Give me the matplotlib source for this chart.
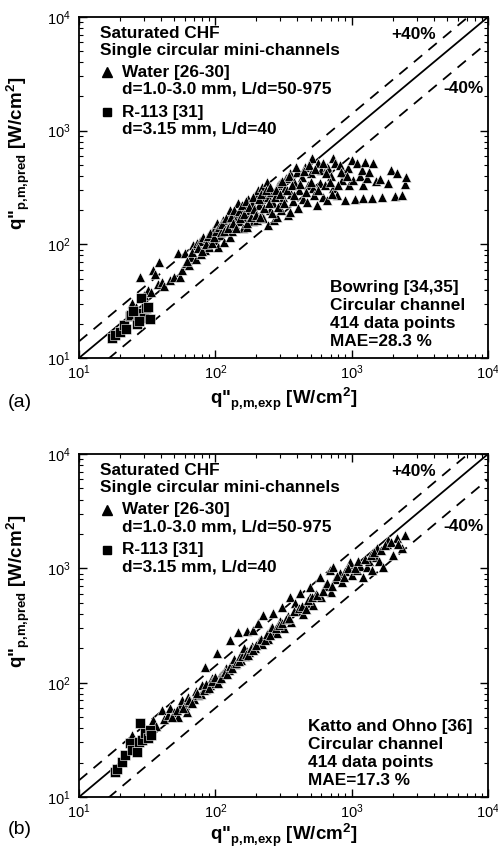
import numpy as np
import matplotlib
matplotlib.use("Agg")
import matplotlib.pyplot as plt

plt.rcParams["font.family"] = ["Liberation Sans", "DejaVu Sans"]
plt.rcParams["mathtext.fontset"] = "custom"
plt.rcParams["mathtext.rm"] = "Liberation Sans"
plt.rcParams["mathtext.bf"] = "Liberation Sans:bold"

# =====================================================
# DATA  -> (q_exp, q_pred) in W/cm2
# =====================================================

# (a) Bowring
water_a = [
    (24.5, 30.5), (26, 28), (28, 51.5), (30, 36), (32, 40), (34, 38), (34.9, 59.4),
    (36, 55), (38.6, 69.8), (38, 45), (40.6, 46.6), (42, 43), (46.5, 48.5), (50, 52),
    (53, 83.5), (55, 51.5), (57, 60), (60.8, 68), (60, 84), (64, 66), (66, 78),
    (69, 99), (72, 75), (73, 102), (77, 107), (78, 82), (81, 116), (84, 90), (87, 113),
    (90, 95), (93, 104), (96, 134), (99, 139), (100, 110), (103, 154), (104, 95),
    (108, 120), (113, 164), (115, 105), (118, 140), (122, 164), (125, 150), (128, 200),
    (128, 116), (132, 130), (136, 180), (140, 150), (144, 174), (146, 230), (150, 160),
    (155, 190), (160, 140), (165, 210), (170, 142), (170, 174), (175, 250), (180, 200),
    (185, 230), (190, 160), (196, 270), (202, 164), (205, 300), (210, 220), (215, 190),
    (220, 320), (225, 170), (232, 260), (240, 353), (243, 148), (243, 260), (250, 200),
    (258, 290), (265, 230), (270, 165), (283, 174), (290, 330), (297, 345), (297, 230),
    (305, 200), (313, 260), (325, 310), (330, 380), (340, 180), (352, 425), (352, 192),
    (360, 280), (370, 240), (380, 350), (397, 435), (403, 208), (410, 300), (430, 390),
    (440, 250), (455, 480), (470, 236), (480, 330), (500, 420), (512, 574), (520, 310),
    (530, 270), (555, 222), (563, 520), (585, 345), (600, 450), (612, 260), (640, 330),
    (660, 480), (660, 245), (670, 470), (700, 400), (730, 310), (731, 574), (760, 520),
    (780, 270), (820, 500), (850, 365), (880, 420), (900, 245), (940, 470), (960, 330),
    (1000, 550), (1020, 365), (1060, 250), (1100, 520), (1150, 400), (1190, 450),
    (1210, 330), (1210, 255), (1253, 530), (1300, 380), (1350, 437), (1410, 255),
    (1437, 520), (1500, 360), (1610, 375), (1670, 260), (1850, 345), (1946, 450),
    (2070, 265), (2150, 424), (2330, 272), (2460, 339), (2506, 392),
    (62, 72), (68, 85), (75, 92), (80, 88), (85, 100), (88, 118), (92, 125), (95, 102),
    (98, 115), (102, 130), (106, 142), (110, 128), (112, 150), (116, 132), (120, 170),
    (124, 138), (130, 175), (134, 155), (138, 200), (142, 140), (148, 195), (152, 170),
    (158, 220), (162, 185), (168, 240), (172, 155), (178, 215), (182, 175), (188, 260),
    (192, 205), (198, 180), (208, 250), (212, 175), (218, 280), (228, 210), (236, 300),
    (248, 230), (252, 320), (262, 190), (275, 260), (280, 300), (288, 215), (300, 280),
    (310, 360), (318, 230), (335, 300), (345, 400), (365, 330), (375, 270), (390, 480),
    (420, 340), (445, 440), (460, 290), (490, 500), (505, 350), (540, 460), (570, 300),
    (620, 520), (650, 420), (690, 350), (720, 280), (800, 330), (830, 430), (920, 400),
]
r113_a = [
    (17.5, 15), (18.5, 16), (20, 17), (21.5, 19.5), (22, 18), (23.5, 23.5), (24, 24),
    (26.5, 20), (27, 24), (28.5, 33.5), (29, 25), (30, 22.5), (31, 27.5), (32, 28),
    (33, 22), (27.5, 21), (25, 26),
]

# (b) Katto and Ohno
water_b = [
    (24.5, 34.8), (26, 30), (28, 33), (30, 38), (32, 35), (35, 47), (37, 42),
    (40.6, 57.6), (42, 48), (45, 52), (46.5, 60), (50, 55), (53, 50), (55, 62),
    (57, 70), (60, 64), (62, 55), (63, 75), (66, 68), (70, 72), (72, 84), (75, 78),
    (78, 80), (80, 95), (84, 137), (85, 88), (88, 92), (92, 96), (95, 110), (98, 100),
    (103, 182), (105, 108), (108, 115), (112, 120), (115, 118), (120, 135), (125, 128),
    (128, 236), (130, 140), (135, 150), (140, 145), (146, 278), (150, 165), (155, 158),
    (160, 180), (165, 170), (170, 283), (172, 190), (178, 185), (185, 210), (190, 290),
    (195, 200), (205, 330), (210, 230), (220, 220), (225, 390), (235, 250), (245, 240),
    (255, 300), (265, 405), (270, 280), (285, 270), (300, 350), (308, 455), (320, 300),
    (340, 380), (355, 560), (360, 340), (385, 500), (400, 420), (420, 610), (440, 400),
    (470, 500), (495, 690), (495, 560), (520, 480), (550, 600), (585, 840), (600, 560),
    (640, 700), (690, 970), (700, 620), (730, 1030), (760, 800), (820, 910), (850, 760),
    (900, 950), (970, 1130), (1000, 880), (1090, 970), (1150, 1050), (1210, 840),
    (1290, 1030), (1350, 1150), (1410, 970), (1500, 1250), (1540, 1500), (1600, 1150),
    (1700, 1030), (1820, 1620), (1840, 1770), (2000, 1300), (2155, 1840), (2340, 1500),
    (2466, 1958),
    (48, 50), (52, 58), (58, 60), (64, 70), (68, 66), (74, 82), (82, 86), (86, 98),
    (90, 90), (94, 104), (100, 112), (104, 100), (110, 110), (118, 125), (122, 118),
    (128, 140), (132, 135), (138, 160), (142, 150), (148, 155), (152, 172), (158, 170),
    (162, 200), (168, 178), (175, 175), (182, 200), (188, 192), (200, 215), (215, 240),
    (230, 235), (240, 265), (250, 260), (260, 310), (280, 300), (295, 320), (310, 330),
    (330, 360), (350, 370), (375, 420), (410, 450), (430, 470), (460, 440), (480, 530),
    (510, 560), (560, 580), (620, 640), (660, 740), (720, 700), (780, 860), (880, 840),
    (940, 1000), (1050, 1000), (1120, 1150), (1250, 1200), (1380, 1300), (1450, 1380),
    (1650, 1450), (1750, 1600), (1950, 1700), (2200, 1650),
]
r113_b = [
    (18.4, 16.5), (19, 17.5), (20.7, 20.2), (21.8, 23.3), (23.7, 29.7), (24.5, 26),
    (26.6, 24.7), (27.5, 30), (28, 44.4), (29, 31.5), (30.5, 36), (32, 33), (33, 38.5),
    (34, 35),
]

panel_tags = ["(a)", "(b)"]
corr_text = [
    ["Bowring [34,35]", "Circular channel", "414 data points", "MAE=28.3 %"],
    ["Katto and Ohno [36]", "Circular channel", "414 data points", "MAE=17.3 %"],
]
corr_x = [0.614, 0.560]
xlabel_y = [-0.082, -0.071]

# =====================================================
# FIGURE
# =====================================================

fig = plt.figure(figsize=(4.98, 8.49), dpi=100)
ax_a = fig.add_axes([0.1586, 0.5783, 0.8213, 0.4017])
ax_b = fig.add_axes([0.1586, 0.0612, 0.8213, 0.4040])

line = np.array([10, 1e4])
fs = 12.4

for k, (ax, water, r113) in enumerate([(ax_a, water_a, r113_a), (ax_b, water_b, r113_b)]):
    ax.set_xscale("log")
    ax.set_yscale("log")
    ax.set_xlim(10, 1e4)
    ax.set_ylim(10, 1e4)

    # 1:1 and +/-40% lines
    ax.plot(line, line, color="black", lw=1.3, zorder=1)
    ax.plot(line, 1.4 * line, color="black", lw=1.3, dashes=(6, 4.5), zorder=1)
    ax.plot(line, 0.6 * line, color="black", lw=1.3, dashes=(6, 4.5), zorder=1)

    w = np.array(water)
    r = np.array(r113)
    ax.scatter(w[:, 0], w[:, 1], marker="^", s=50, color="black",
               edgecolors="white", linewidths=0.4, zorder=3)
    ax.scatter(r[:, 0], r[:, 1], marker="s", s=42, color="black",
               edgecolors="white", linewidths=0.4, zorder=3)

    # ticks
    ax.tick_params(which="both", direction="in", top=True, right=True)
    ax.tick_params(which="major", length=6, width=1, labelsize=10.5)
    ax.tick_params(axis="x", which="major", pad=4)
    ax.tick_params(axis="y", which="major", pad=6)
    ax.tick_params(which="minor", length=3, width=0.8)
    for sp in ax.spines.values():
        sp.set_linewidth(1.3)

    ax.set_xlabel(r'q"$_{\mathbf{p{,}m{,}exp}}$ [W/cm$^{\mathbf{2}}$]',
                  fontsize=13.5, fontweight="bold")
    ax.set_ylabel(r'q"$_{\mathbf{p{,}m{,}pred}}$ [W/cm$^{\mathbf{2}}$]',
                  fontsize=13.5, fontweight="bold")
    ax.xaxis.set_label_coords(0.5, xlabel_y[k])
    ax.yaxis.set_label_coords(-0.115, 0.6)

    # legend-like block
    top = 0.953
    step = 0.05
    ax.text(0.051, top, "Saturated CHF", transform=ax.transAxes,
            fontsize=fs, fontweight="bold", va="center")
    ax.text(0.051, top - step, "Single circular mini-channels", transform=ax.transAxes,
            fontsize=fs, fontweight="bold", va="center")
    ax.plot([0.068], [top - 2.3 * step], marker="^", color="black", ms=6.5,
            transform=ax.transAxes)
    ax.text(0.105, top - 2.3 * step, "Water [26-30]", transform=ax.transAxes,
            fontsize=fs, fontweight="bold", va="center")
    ax.text(0.105, top - 3.3 * step, "d=1.0-3.0 mm, L/d=50-975", transform=ax.transAxes,
            fontsize=fs, fontweight="bold", va="center")
    ax.plot([0.068], [top - 4.65 * step], marker="s", color="black", ms=5.5,
            transform=ax.transAxes)
    ax.text(0.105, top - 4.65 * step, "R-113 [31]", transform=ax.transAxes,
            fontsize=fs, fontweight="bold", va="center")
    ax.text(0.105, top - 5.65 * step, "d=3.15 mm, L/d=40", transform=ax.transAxes,
            fontsize=fs, fontweight="bold", va="center")

    ax.text(0.817, 0.95, "+40%", transform=ax.transAxes, fontsize=fs,
            fontweight="bold", ha="center", va="center")
    ax.text(0.939, 0.79, "-40%", transform=ax.transAxes, fontsize=fs,
            fontweight="bold", ha="center", va="center")

    for i, s in enumerate(corr_text[k]):
        ax.text(corr_x[k], 0.207 - i * 0.053, s, transform=ax.transAxes,
                fontsize=fs, fontweight="bold", va="center")

fig.text(20 / 498, 1 - 402 / 849, panel_tags[0], fontsize=14, ha="center", va="center")
fig.text(20 / 498, 1 - 830 / 849, panel_tags[1], fontsize=14, ha="center", va="center")

plt.savefig("out.png", dpi=100)
